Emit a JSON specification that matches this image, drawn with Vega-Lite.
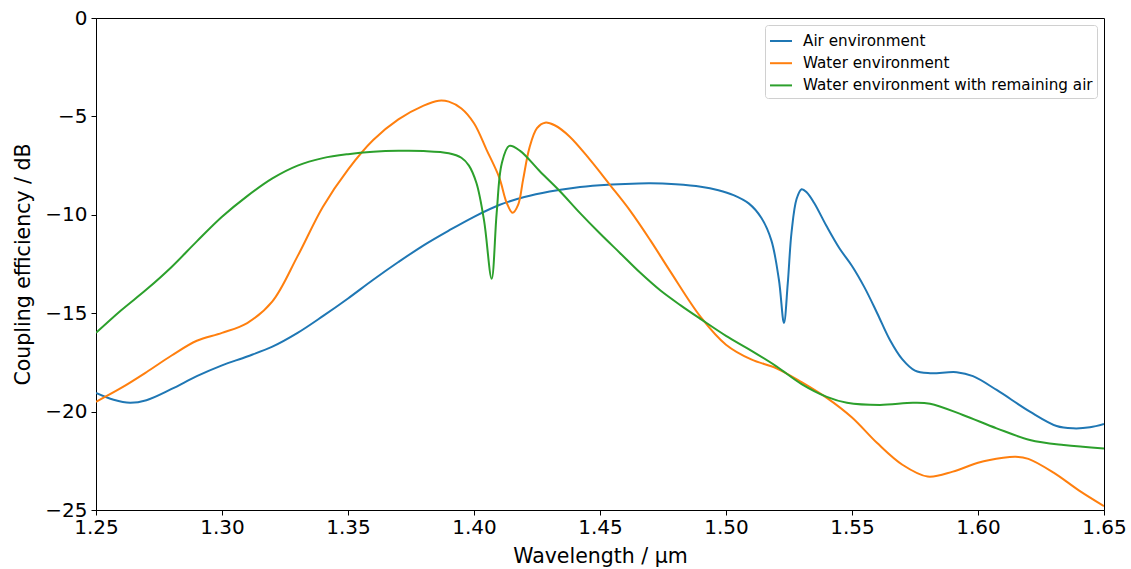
{
  "$schema": "https://vega.github.io/schema/vega-lite/v6.json",
  "width": 1008,
  "height": 492,
  "autosize": "none",
  "padding": {"left": 96, "top": 18, "right": 27, "bottom": 59},
  "background": "white",
  "config": {
    "view": {"stroke": "#000000", "strokeWidth": 1},
    "font": "DejaVu Sans"
  },
  "datasets": {
    "air": [
      {"wl": 1.25, "ce": -19.05}, {"wl": 1.257, "ce": -19.4}, {"wl": 1.2635, "ce": -19.55}, {"wl": 1.27, "ce": -19.42},
      {"wl": 1.28, "ce": -18.85}, {"wl": 1.29, "ce": -18.2}, {"wl": 1.30, "ce": -17.65}, {"wl": 1.31, "ce": -17.2},
      {"wl": 1.32, "ce": -16.7}, {"wl": 1.33, "ce": -16.0}, {"wl": 1.34, "ce": -15.15}, {"wl": 1.35, "ce": -14.25},
      {"wl": 1.36, "ce": -13.3}, {"wl": 1.37, "ce": -12.4}, {"wl": 1.38, "ce": -11.55}, {"wl": 1.39, "ce": -10.8},
      {"wl": 1.40, "ce": -10.1}, {"wl": 1.41, "ce": -9.5}, {"wl": 1.42, "ce": -9.1}, {"wl": 1.43, "ce": -8.82},
      {"wl": 1.44, "ce": -8.62}, {"wl": 1.45, "ce": -8.5}, {"wl": 1.46, "ce": -8.43}, {"wl": 1.47, "ce": -8.4},
      {"wl": 1.48, "ce": -8.45}, {"wl": 1.49, "ce": -8.57}, {"wl": 1.497, "ce": -8.75}, {"wl": 1.503, "ce": -9.0},
      {"wl": 1.509, "ce": -9.42}, {"wl": 1.514, "ce": -10.15}, {"wl": 1.518, "ce": -11.3}, {"wl": 1.521, "ce": -13.3},
      {"wl": 1.523, "ce": -15.5}, {"wl": 1.5245, "ce": -13.5}, {"wl": 1.526, "ce": -10.9}, {"wl": 1.528, "ce": -9.2},
      {"wl": 1.530, "ce": -8.7}, {"wl": 1.532, "ce": -8.85}, {"wl": 1.535, "ce": -9.4}, {"wl": 1.54, "ce": -10.6},
      {"wl": 1.545, "ce": -11.7}, {"wl": 1.55, "ce": -12.6}, {"wl": 1.555, "ce": -13.7}, {"wl": 1.56, "ce": -15.0},
      {"wl": 1.565, "ce": -16.35}, {"wl": 1.57, "ce": -17.35}, {"wl": 1.575, "ce": -17.92}, {"wl": 1.581, "ce": -18.05},
      {"wl": 1.5915, "ce": -18.0}, {"wl": 1.598, "ce": -18.2}, {"wl": 1.6074, "ce": -18.9}, {"wl": 1.6206, "ce": -20.0},
      {"wl": 1.6312, "ce": -20.73}, {"wl": 1.6377, "ce": -20.85}, {"wl": 1.6444, "ce": -20.8}, {"wl": 1.65, "ce": -20.63}
    ],
    "water": [
      {"wl": 1.25, "ce": -19.5}, {"wl": 1.26, "ce": -18.8}, {"wl": 1.27, "ce": -18.0}, {"wl": 1.28, "ce": -17.15},
      {"wl": 1.29, "ce": -16.4}, {"wl": 1.30, "ce": -16.0}, {"wl": 1.31, "ce": -15.5}, {"wl": 1.32, "ce": -14.4},
      {"wl": 1.33, "ce": -12.1}, {"wl": 1.34, "ce": -9.6}, {"wl": 1.35, "ce": -7.7}, {"wl": 1.36, "ce": -6.2},
      {"wl": 1.37, "ce": -5.15}, {"wl": 1.38, "ce": -4.45}, {"wl": 1.386, "ce": -4.2}, {"wl": 1.39, "ce": -4.25},
      {"wl": 1.395, "ce": -4.6}, {"wl": 1.40, "ce": -5.35}, {"wl": 1.405, "ce": -6.7}, {"wl": 1.41, "ce": -8.1},
      {"wl": 1.413, "ce": -9.4}, {"wl": 1.4153, "ce": -9.9}, {"wl": 1.4175, "ce": -9.5}, {"wl": 1.4195, "ce": -8.2},
      {"wl": 1.422, "ce": -6.6}, {"wl": 1.425, "ce": -5.6}, {"wl": 1.4282, "ce": -5.32}, {"wl": 1.432, "ce": -5.45},
      {"wl": 1.438, "ce": -6.03}, {"wl": 1.446, "ce": -7.2}, {"wl": 1.454, "ce": -8.49}, {"wl": 1.462, "ce": -9.8},
      {"wl": 1.47, "ce": -11.3}, {"wl": 1.478, "ce": -12.9}, {"wl": 1.49, "ce": -15.2}, {"wl": 1.50, "ce": -16.6}, {"wl": 1.51, "ce": -17.35},
      {"wl": 1.52, "ce": -17.8}, {"wl": 1.53, "ce": -18.5}, {"wl": 1.54, "ce": -19.3}, {"wl": 1.55, "ce": -20.3},
      {"wl": 1.56, "ce": -21.6}, {"wl": 1.57, "ce": -22.7}, {"wl": 1.58, "ce": -23.3}, {"wl": 1.59, "ce": -23.05},
      {"wl": 1.60, "ce": -22.6}, {"wl": 1.61, "ce": -22.35}, {"wl": 1.615, "ce": -22.3}, {"wl": 1.62, "ce": -22.4},
      {"wl": 1.63, "ce": -23.1}, {"wl": 1.64, "ce": -24.0}, {"wl": 1.65, "ce": -24.8}
    ],
    "remain": [
      {"wl": 1.25, "ce": -16.0}, {"wl": 1.26, "ce": -14.85}, {"wl": 1.27, "ce": -13.8}, {"wl": 1.28, "ce": -12.65},
      {"wl": 1.29, "ce": -11.35}, {"wl": 1.30, "ce": -10.1}, {"wl": 1.31, "ce": -9.05}, {"wl": 1.32, "ce": -8.15},
      {"wl": 1.33, "ce": -7.5}, {"wl": 1.34, "ce": -7.12}, {"wl": 1.35, "ce": -6.92}, {"wl": 1.36, "ce": -6.8},
      {"wl": 1.37, "ce": -6.75}, {"wl": 1.38, "ce": -6.76}, {"wl": 1.39, "ce": -6.87}, {"wl": 1.395, "ce": -7.1},
      {"wl": 1.398, "ce": -7.5}, {"wl": 1.401, "ce": -8.4}, {"wl": 1.404, "ce": -10.3}, {"wl": 1.407, "ce": -13.25},
      {"wl": 1.409, "ce": -9.9}, {"wl": 1.411, "ce": -7.4}, {"wl": 1.414, "ce": -6.5}, {"wl": 1.4183, "ce": -6.75},
      {"wl": 1.4262, "ce": -7.8}, {"wl": 1.4341, "ce": -8.8}, {"wl": 1.442, "ce": -9.9}, {"wl": 1.45, "ce": -10.95},
      {"wl": 1.458, "ce": -11.95}, {"wl": 1.466, "ce": -12.95}, {"wl": 1.474, "ce": -13.85}, {"wl": 1.482, "ce": -14.6},
      {"wl": 1.49, "ce": -15.3}, {"wl": 1.50, "ce": -16.15}, {"wl": 1.51, "ce": -16.9},
      {"wl": 1.52, "ce": -17.7}, {"wl": 1.53, "ce": -18.6}, {"wl": 1.54, "ce": -19.25}, {"wl": 1.548, "ce": -19.55},
      {"wl": 1.5611, "ce": -19.66}, {"wl": 1.5742, "ce": -19.55}, {"wl": 1.581, "ce": -19.6},
      {"wl": 1.594, "ce": -20.17}, {"wl": 1.6074, "ce": -20.85}, {"wl": 1.6206, "ce": -21.44}, {"wl": 1.634, "ce": -21.7},
      {"wl": 1.65, "ce": -21.87}
    ]
  },
  "layer": [
    {
      "data": {"name": "air"},
      "transform": [{"calculate": "'Air environment'", "as": "series"}],
      "mark": {"type": "line", "interpolate": "catmull-rom", "strokeWidth": 2, "clip": true},
      "encoding": {
        "x": {"field": "wl", "type": "quantitative"},
        "y": {"field": "ce", "type": "quantitative"},
        "color": {"field": "series", "type": "nominal"}
      }
    },
    {
      "data": {"name": "water"},
      "transform": [{"calculate": "'Water environment'", "as": "series"}],
      "mark": {"type": "line", "interpolate": "catmull-rom", "strokeWidth": 2, "clip": true},
      "encoding": {
        "x": {"field": "wl", "type": "quantitative"},
        "y": {"field": "ce", "type": "quantitative"},
        "color": {"field": "series", "type": "nominal"}
      }
    },
    {
      "data": {"name": "remain"},
      "transform": [{"calculate": "'Water environment with remaining air'", "as": "series"}],
      "mark": {"type": "line", "interpolate": "catmull-rom", "strokeWidth": 2, "clip": true},
      "encoding": {
        "x": {"field": "wl", "type": "quantitative", "scale": {"domain": [1.25, 1.65], "nice": false, "zero": false},
          "axis": {"title": "Wavelength / µm", "values": [1.25, 1.3, 1.35, 1.4, 1.45, 1.5, 1.55, 1.6, 1.65], "format": ".2f",
            "grid": false, "domainColor": "#000", "tickColor": "#000", "tickSize": 5, "labelFontSize": 20, "labelColor": "#000",
            "labelPadding": 2, "titleFontSize": 20.5, "titleFontWeight": "normal", "titleColor": "#000", "titlePadding": 9, "labelFlush": false}},
        "y": {"field": "ce", "type": "quantitative", "scale": {"domain": [-25, 0], "nice": false, "zero": false},
          "axis": {"title": "Coupling efficiency / dB", "values": [0, -5, -10, -15, -20, -25],
            "grid": false, "domainColor": "#000", "tickColor": "#000", "tickSize": 5, "labelFontSize": 20, "labelColor": "#000",
            "labelPadding": 4, "titleFontSize": 20.5, "titleFontWeight": "normal", "titleColor": "#000", "titlePadding": 11}},
        "color": {"field": "series", "type": "nominal",
          "scale": {"domain": ["Air environment", "Water environment", "Water environment with remaining air"], "range": ["#1f77b4", "#ff7f0e", "#2ca02c"]},
          "legend": {"title": null, "orient": "top-right", "offset": 7, "symbolType": "stroke", "symbolStrokeWidth": 2, "symbolSize": 484,
            "labelFontSize": 15.2, "labelColor": "#000", "labelLimit": 400, "rowPadding": 1.2, "padding": 4, "strokeColor": "#d0d0d0", "fillColor": "white",
            "cornerRadius": 3, "labelOffset": 10}}
      }
    }
  ]
}
